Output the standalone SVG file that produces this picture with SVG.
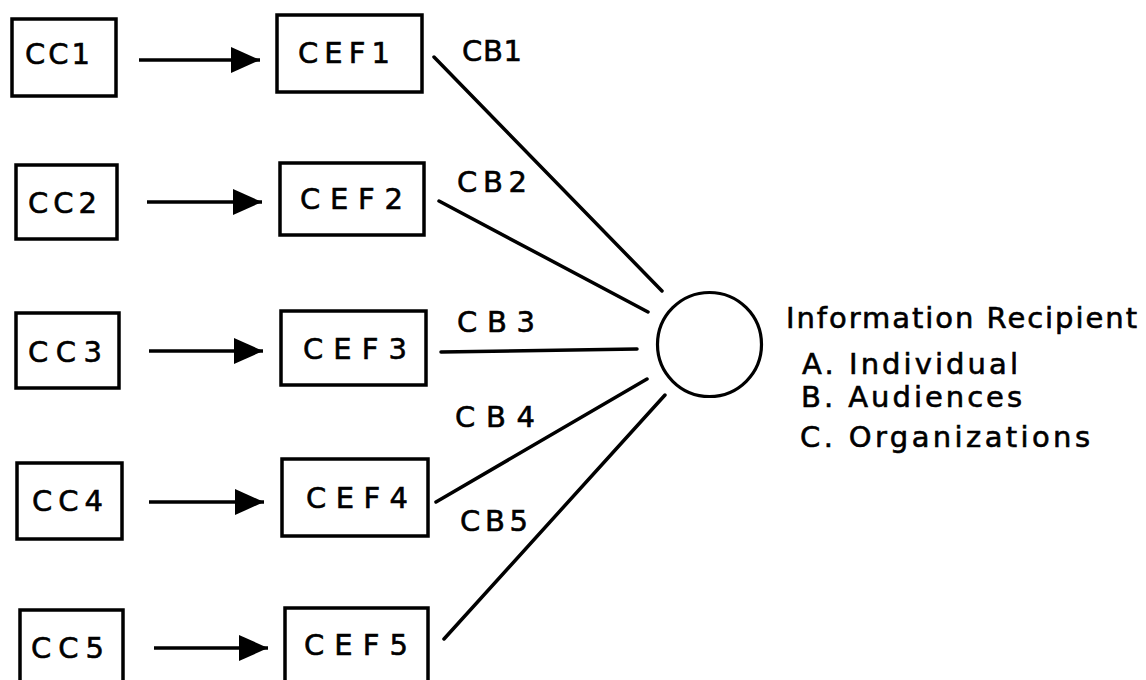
<svg xmlns="http://www.w3.org/2000/svg" width="1146" height="680" viewBox="0 0 1146 680">
  <style>
    .box { fill: #fff; stroke: #000; stroke-width: 3.5; }
    .lbl { font-family: "DejaVu Sans", "Liberation Sans", Arial, sans-serif; font-size: 29px; fill: #000; stroke: #000; stroke-width: 0.6; }
    .wire { stroke: #000; stroke-width: 3.5; fill: none; stroke-linecap: round; }
    .arrow { stroke: #000; stroke-width: 3.5; fill: none; marker-end: url(#head); }
  </style>
  <defs>
    <marker id="head" markerUnits="userSpaceOnUse" markerWidth="32" markerHeight="28" refX="29" refY="13" orient="auto">
      <path d="M0,0 L29,13 L0,26 Z" fill="#000"/>
    </marker>
  </defs>
  <rect width="1146" height="680" fill="#fff"/>

  <!-- source blocks -->
  <g id="cc1"><rect class="box" x="12" y="19" width="104" height="77"/><text class="lbl" x="25" y="64" textLength="65" lengthAdjust="spacing">CC1</text></g>
  <g id="cc2"><rect class="box" x="16" y="165" width="101" height="74"/><text class="lbl" x="28" y="213" textLength="69" lengthAdjust="spacing">CC2</text></g>
  <g id="cc3"><rect class="box" x="16" y="313" width="103" height="75"/><text class="lbl" x="28" y="362" textLength="74" lengthAdjust="spacing">CC3</text></g>
  <g id="cc4"><rect class="box" x="17" y="463" width="105" height="76"/><text class="lbl" x="32" y="511" textLength="71" lengthAdjust="spacing">CC4</text></g>
  <g id="cc5"><rect class="box" x="20" y="610" width="103" height="80"/><text class="lbl" x="31" y="658" textLength="73" lengthAdjust="spacing">CC5</text></g>

  <!-- effect blocks -->
  <g id="cef1"><rect class="box" x="277" y="15" width="145" height="77"/><text class="lbl" x="298" y="63" textLength="92" lengthAdjust="spacing">CEF1</text></g>
  <g id="cef2"><rect class="box" x="280" y="163" width="144" height="72"/><text class="lbl" x="300" y="209" textLength="103" lengthAdjust="spacing">CEF2</text></g>
  <g id="cef3"><rect class="box" x="281" y="311" width="145" height="74"/><text class="lbl" x="303" y="359" textLength="104" lengthAdjust="spacing">CEF3</text></g>
  <g id="cef4"><rect class="box" x="282" y="459" width="146" height="77"/><text class="lbl" x="306" y="508" textLength="102" lengthAdjust="spacing">CEF4</text></g>
  <g id="cef5"><rect class="box" x="285" y="608" width="143" height="82"/><text class="lbl" x="304" y="655" textLength="104" lengthAdjust="spacing">CEF5</text></g>

  <!-- recipient -->
  <g id="recipient">
    <circle cx="709.5" cy="344.5" r="52" fill="#fff" stroke="#000" stroke-width="3.2"/>
    <text class="lbl" x="786" y="328" textLength="351" lengthAdjust="spacing">Information Recipient</text>
    <text class="lbl" x="802" y="374" textLength="216" lengthAdjust="spacing">A. Individual</text>
    <text class="lbl" x="801" y="407" textLength="221" lengthAdjust="spacing">B. Audiences</text>
    <text class="lbl" x="800" y="447" textLength="290" lengthAdjust="spacing">C. Organizations</text>
  </g>

  <!-- connectors -->
  <g id="connectors">
    <line class="arrow" x1="139" y1="60" x2="260" y2="60"/>
    <line class="arrow" x1="147" y1="202" x2="262" y2="202"/>
    <line class="arrow" x1="149" y1="351" x2="263" y2="351"/>
    <line class="arrow" x1="149" y1="502" x2="264" y2="502"/>
    <line class="arrow" x1="154" y1="648" x2="268" y2="648"/>

    <line class="wire" x1="434" y1="57" x2="662" y2="291"/>
    <line class="wire" x1="439" y1="201" x2="648" y2="312"/>
    <line class="wire" x1="441" y1="352" x2="637" y2="349"/>
    <line class="wire" x1="436" y1="502" x2="647" y2="379"/>
    <line class="wire" x1="444" y1="639" x2="665" y2="395"/>

    <text class="lbl" x="462" y="61" textLength="60" lengthAdjust="spacing">CB1</text>
    <text class="lbl" x="457" y="192" textLength="70" lengthAdjust="spacing">CB2</text>
    <text class="lbl" x="457" y="332" textLength="78" lengthAdjust="spacing">CB3</text>
    <text class="lbl" x="455" y="427" textLength="80" lengthAdjust="spacing">CB4</text>
    <text class="lbl" x="460" y="531" textLength="68" lengthAdjust="spacing">CB5</text>
  </g>
</svg>
